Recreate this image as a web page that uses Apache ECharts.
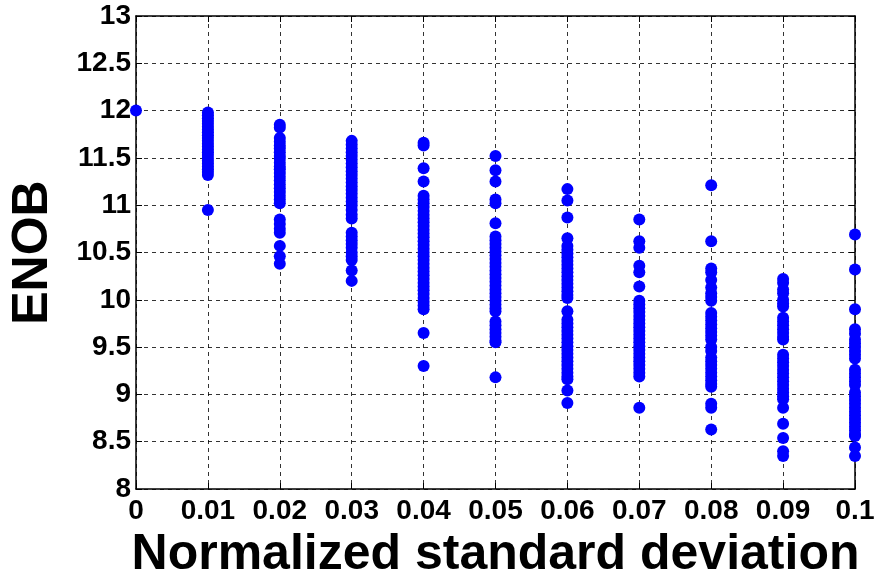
<!DOCTYPE html>
<html>
<head>
<meta charset="utf-8">
<script src="https://cdn.jsdelivr.net/npm/echarts@6.0.0/dist/echarts.min.js"></script>
<style>
  html, body { margin: 0; padding: 0; background: #fff; }
  #chart { width: 875px; height: 575px; }
</style>
</head>
<body>
<div id="chart"></div>
<script>
// x positions (normalized standard deviation)
const sigmaValues = [0, 0.01, 0.02, 0.03, 0.04, 0.05, 0.06, 0.07, 0.08, 0.09, 0.1];

// ENOB samples per sigma column
const enob000 = [12.0];
const enob001 = [11.98, 11.95, 11.92, 11.89, 11.86, 11.83, 11.8, 11.77, 11.74, 11.71, 11.68, 11.65, 11.62, 11.59,
  11.56, 11.53, 11.5, 11.47, 11.44, 11.41, 11.38, 11.35, 11.32, 10.95];
const enob002 = [11.85, 11.82, 11.71, 11.67, 11.63, 11.6, 11.56, 11.52, 11.49, 11.45, 11.41, 11.38, 11.34, 11.3,
  11.26, 11.22, 11.18, 11.14, 11.1, 11.06, 11.02, 10.85, 10.8, 10.75, 10.71, 10.57, 10.46, 10.38];
const enob003 = [11.68, 11.64, 11.6, 11.56, 11.52, 11.48, 11.44, 11.4, 11.36, 11.32, 11.28, 11.24, 11.2, 11.16,
  11.12, 11.08, 11.04, 11.0, 10.95, 10.9, 10.86, 10.71, 10.67, 10.63, 10.59, 10.55, 10.5, 10.46, 10.42, 10.31, 10.2];
const enob004 = [11.66, 11.63, 11.39, 11.25, 11.1, 11.06, 11.02, 10.98, 10.94, 10.9, 10.86, 10.82, 10.78, 10.74,
  10.7, 10.66, 10.62, 10.58, 10.54, 10.5, 10.46, 10.42, 10.38, 10.34, 10.3, 10.26, 10.22, 10.18, 10.14, 10.1,
  10.06, 10.02, 9.98, 9.94, 9.9, 9.65, 9.3];
const enob005 = [11.52, 11.37, 11.25, 11.06, 11.02, 10.81, 10.67, 10.63, 10.59, 10.55, 10.51, 10.47, 10.43, 10.39,
  10.35, 10.31, 10.27, 10.23, 10.19, 10.15, 10.11, 10.07, 10.03, 9.99, 9.95, 9.91, 9.88, 9.77, 9.73, 9.69, 9.65,
  9.61, 9.57, 9.55, 9.18];
const enob006 = [11.17, 11.05, 10.87, 10.65, 10.57, 10.53, 10.49, 10.45, 10.41, 10.37, 10.33, 10.29, 10.25, 10.21,
  10.17, 10.13, 10.09, 10.05, 10.02, 9.88, 9.79, 9.75, 9.71, 9.67, 9.63, 9.59, 9.55, 9.51, 9.47, 9.43, 9.39, 9.35,
  9.31, 9.27, 9.23, 9.19, 9.16, 9.04, 8.91];
const enob007 = [10.85, 10.62, 10.55, 10.36, 10.29, 10.14, 9.99, 9.95, 9.91, 9.87, 9.83, 9.79, 9.75, 9.71, 9.67,
  9.63, 9.59, 9.55, 9.51, 9.47, 9.43, 9.39, 9.35, 9.31, 9.27, 9.23, 9.19, 8.86];
const enob008 = [11.21, 10.62, 10.33, 10.29, 10.21, 10.13, 10.07, 10.03, 9.99, 9.86, 9.82, 9.78, 9.74, 9.7, 9.66,
  9.62, 9.58, 9.5, 9.46, 9.39, 9.35, 9.31, 9.27, 9.23, 9.19, 9.15, 9.11, 9.08, 8.9, 8.86, 8.63];
const enob009 = [10.22, 10.18, 10.11, 10.07, 10.0, 9.96, 9.93, 9.81, 9.77, 9.73, 9.69, 9.65, 9.61, 9.58, 9.42,
  9.38, 9.34, 9.3, 9.26, 9.22, 9.18, 9.14, 9.1, 9.06, 9.02, 8.98, 8.95, 8.86, 8.69, 8.54, 8.4, 8.35];
const enob010 = [10.69, 10.32, 9.9, 9.69, 9.64, 9.58, 9.54, 9.5, 9.46, 9.42, 9.38, 9.26, 9.22, 9.18, 9.14, 9.1,
  9.02, 8.98, 8.94, 8.9, 8.86, 8.82, 8.78, 8.74, 8.7, 8.66, 8.62, 8.58, 8.56, 8.44, 8.35];

const enobColumns = [enob000, enob001, enob002, enob003, enob004, enob005, enob006, enob007, enob008, enob009, enob010];

// tick labels
const xTickLabels = ['0', '0.01', '0.02', '0.03', '0.04', '0.05', '0.06', '0.07', '0.08', '0.09', '0.1'];
const yTickLabels = ['8', '8.5', '9', '9.5', '10', '10.5', '11', '11.5', '12', '12.5', '13'];

const points = [];
enobColumns.forEach((col, i) => {
  col.forEach(v => points.push([sigmaValues[i], v]));
});

const FONT = '"Liberation Sans", Arial, sans-serif';

const chart = echarts.init(document.getElementById('chart'), null, { renderer: 'canvas' });

const gridLine = { show: true, lineStyle: { color: '#000', type: [4, 4], width: 1, opacity: 0.8 } };
const boxLine = { show: true, onZero: false, lineStyle: { color: '#000', width: 1.5 } };
const tickIn = { show: true, inside: true, length: 6, lineStyle: { color: '#000', width: 1 } };

chart.setOption({
  animation: false,
  backgroundColor: '#fff',
  grid: { left: 136, right: 20, top: 16, bottom: 86, outerBoundsMode: 'none', containLabel: false },
  xAxis: [{
    type: 'value',
    min: 0, max: 0.1, interval: 0.01,
    position: 'bottom',
    name: 'Normalized standard deviation',
    nameLocation: 'middle',
    nameGap: 32,
    nameTextStyle: { fontFamily: FONT, fontWeight: 'bold', fontSize: 50, color: '#000' },
    axisLine: boxLine,
    axisTick: tickIn,
    splitLine: gridLine,
    axisLabel: {
      fontFamily: FONT, fontWeight: 'bold', fontSize: 28, color: '#000', margin: 8,
      formatter: v => xTickLabels[Math.round(v * 100)]
    }
  }, {
    type: 'value',
    min: 0, max: 0.1, interval: 0.01,
    position: 'top',
    axisLine: boxLine,
    axisTick: tickIn,
    splitLine: { show: false },
    axisLabel: { show: false }
  }],
  yAxis: [{
    type: 'value',
    min: 8, max: 13, interval: 0.5,
    position: 'left',
    name: 'ENOB',
    nameLocation: 'middle',
    nameGap: 78,
    nameRotate: 90,
    nameTextStyle: { fontFamily: FONT, fontWeight: 'bold', fontSize: 50, color: '#000' },
    axisLine: boxLine,
    axisTick: tickIn,
    splitLine: gridLine,
    axisLabel: {
      fontFamily: FONT, fontWeight: 'bold', fontSize: 28, color: '#000', margin: 5,
      formatter: v => yTickLabels[Math.round((v - 8) * 2)]
    }
  }, {
    type: 'value',
    min: 8, max: 13, interval: 0.5,
    position: 'right',
    axisLine: boxLine,
    axisTick: tickIn,
    splitLine: { show: false },
    axisLabel: { show: false }
  }],
  series: [{
    type: 'scatter',
    data: points,
    symbol: 'circle',
    symbolSize: 12,
    clip: false,
    itemStyle: { color: '#0000ff', opacity: 1 },
    z: 5
  }]
});
</script>
</body>
</html>
